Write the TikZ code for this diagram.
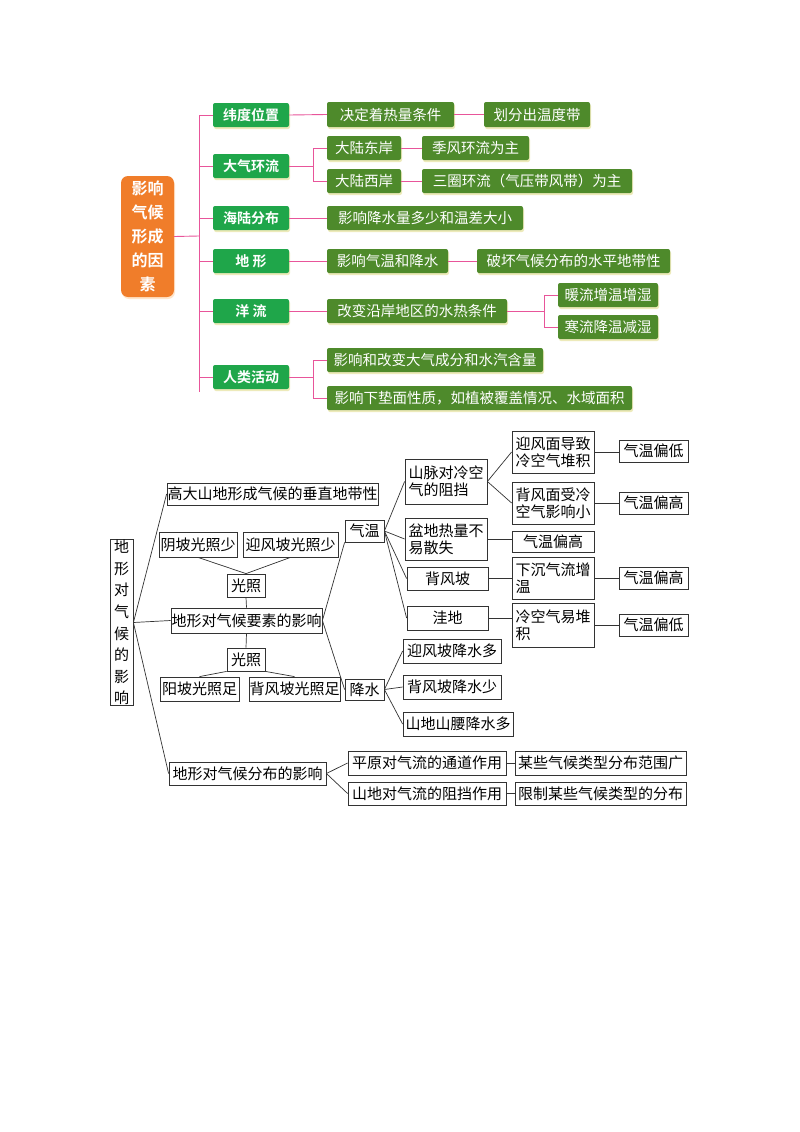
\documentclass[tikz,border=0pt]{standalone}
\usepackage{fontspec}
\setmainfont{Noto Sans CJK SC}
\newfontfamily\cjkb{Noto Sans CJK SC Bold}
\usetikzlibrary{shadows}
\newcommand\bx[8][]{\node[#2,minimum width={(#6-#4)*1pt},minimum height={(#7-#5)*1pt},#1] (#3) at ({(#4+#6)/2},{(#5+#7)/2}) {#8};}
\definecolor{gA}{HTML}{1FA64A}
\definecolor{gB}{HTML}{4E8A2B}
\definecolor{org}{HTML}{F07D2A}
\definecolor{pk}{HTML}{E8559A}
\begin{document}
\begin{tikzpicture}[x=1pt,y=-1pt,
 g1/.style={fill=gA,rounded corners=2pt,text=white,font=\cjkb\fontsize{14}{16}\selectfont,inner sep=0pt,drop shadow={fill=yellow!60!gray,opacity=.4,shadow xshift=1pt,shadow yshift=-2pt}},
 g2/.style={fill=gB,rounded corners=2pt,text=white,font=\fontsize{14.5}{16}\selectfont,inner sep=0pt,drop shadow={fill=yellow!60!gray,opacity=.4,shadow xshift=1pt,shadow yshift=-2pt}},
 pl/.style={draw=pk,line width=0.9pt},
 bb/.style={draw=black!80,line width=0.8pt,font=\fontsize{15}{17}\selectfont,inner sep=0.5pt},
 bl/.style={draw=black!80,line width=0.7pt}]
\useasboundingbox (0,0) rectangle (800,1132);
\fill[white] (0,0) rectangle (800,1132);
% ---------- top ----------
\bx[drop shadow={fill=orange!40,opacity=.5,shadow xshift=1pt,shadow yshift=-2pt}]{fill=org,rounded corners=7pt,text=white,font=\cjkb\fontsize{16}{24}\selectfont,align=center,inner sep=0pt}{root}{121}{176}{174}{297}{影响\\气候\\形成\\的因\\素}
\bx{g1}{a1}{213}{103}{289}{127}{纬度位置}
\bx{g1}{a2}{213}{154}{289}{178}{大气环流}
\bx{g1}{a3}{213}{206}{289}{230}{海陆分布}
\bx{g1}{a4}{213}{249}{289}{273}{地\ 形}
\bx{g1}{a5}{213}{299}{289}{323}{洋\ 流}
\bx{g1}{a6}{213}{365}{289}{389}{人类活动}
\bx{g2}{b1}{327}{102}{454}{127}{决定着热量条件}
\bx{g2}{c1}{484}{102}{590}{127}{划分出温度带}
\bx{g2}{b2}{327}{136}{401}{160}{大陆东岸}
\bx{g2}{c2}{422}{136}{529}{160}{季风环流为主}
\bx{g2}{b3}{327}{169}{401}{193}{大陆西岸}
\bx{g2}{c3}{422}{169}{632}{193}{三圈环流（气压带风带）为主}
\bx{g2}{b4}{327}{206}{523}{230}{影响降水量多少和温差大小}
\bx{g2}{b5}{327}{249}{448}{273}{影响气温和降水}
\bx{g2}{c5}{477}{249}{670}{273}{破坏气候分布的水平地带性}
\bx{g2}{b6}{327}{299}{507}{323}{改变沿岸地区的水热条件}
\bx{g2}{c6}{558}{283}{658}{307}{暖流增温增湿}
\bx{g2}{d6}{558}{315}{658}{339}{寒流降温减湿}
\bx{g2}{b7}{327}{348}{543}{372}{影响和改变大气成分和水汽含量}
\bx{g2}{c7}{327}{386}{632}{410}{影响下垫面性质，如植被覆盖情况、水域面积}
\begin{scope}[pl]
\draw (root.east) -- (199,236);
\draw (199,115) -- (199,392);
\foreach \n in {a1,a2,a3,a4,a5,a6} \draw (199,0 |- \n.west) -- (\n.west);
\draw (a1.east) -- (b1.west); \draw (b1.east) -- (c1.west);
\draw (a2.east) -- (313,0 |- a2.east); \draw (313,0 |- b2.west) -- (313,0 |- b3.west);
\draw (313,0 |- b2.west) -- (b2.west); \draw (313,0 |- b3.west) -- (b3.west);
\draw (b2.east) -- (c2.west); \draw (b3.east) -- (c3.west);
\draw (a3.east) -- (b4.west);
\draw (a4.east) -- (b5.west); \draw (b5.east) -- (c5.west);
\draw (a5.east) -- (b6.west); \draw (b6.east) -- (544,0 |- b6.east);
\draw (544,0 |- c6.west) -- (544,0 |- d6.west);
\draw (544,0 |- c6.west) -- (c6.west); \draw (544,0 |- d6.west) -- (d6.west);
\draw (a6.east) -- (313,0 |- a6.east); \draw (313,0 |- b7.west) -- (313,0 |- c7.west);
\draw (313,0 |- b7.west) -- (b7.west); \draw (313,0 |- c7.west) -- (c7.west);
\end{scope}
% ---------- bottom ----------
\bx{bb,align=center,font=\fontsize{15}{21.6}\selectfont}{R}{110}{547}{133}{698}{地\\形\\对\\气\\候\\的\\影\\响}
\bx{bb}{h}{169}{483}{376}{505}{高大山地形成气候的垂直地带性}
\bx{bb}{y1}{159}{532}{237}{557}{阴坡光照少}
\bx{bb}{y2}{243}{532}{338}{557}{迎风坡光照少}
\bx{bb}{g1}{227}{574}{265}{597}{光照}
\bx{bb}{E}{172}{608}{321}{633}{地形对气候要素的影响}
\bx{bb}{g2}{227}{648}{265}{671}{光照}
\bx{bb}{z1}{160}{677}{239}{701}{阳坡光照足}
\bx{bb}{z2}{249}{677}{340}{701}{背风坡光照足}
\bx{bb}{T}{345}{520}{384}{542}{气温}
\bx{bb}{P}{345}{679}{384}{700}{降水}
\bx{bb,align=left,font=\fontsize{15}{17}\selectfont}{m1}{405}{459}{487}{504}{山脉对冷空\\气的阻挡}
\bx{bb,align=left,font=\fontsize{15}{17}\selectfont}{m2}{405}{518}{487}{560}{盆地热量不\\易散失}
\bx{bb}{m3}{407}{567}{488}{590}{背风坡}
\bx{bb}{m4}{407}{606}{488}{630}{洼地}
\bx{bb,align=left,font=\fontsize{15}{17}\selectfont}{n1}{512}{431}{594}{473}{迎风面导致\\冷空气堆积}
\bx{bb,align=left,font=\fontsize{15}{17}\selectfont}{n2}{512}{482}{594}{524}{背风面受冷\\空气影响小}
\bx{bb}{n3}{512}{531}{594}{552}{气温偏高}
\bx{bb,align=left,font=\fontsize{15}{17}\selectfont}{n4}{512}{557}{594}{599}{下沉气流增\\温\hphantom{沉气流增}}
\bx{bb,align=left,font=\fontsize{15}{17}\selectfont}{n5}{512}{603}{594}{647}{冷空气易堆\\积\hphantom{空气易堆}}
\bx{bb}{o1}{619}{440}{688}{462}{气温偏低}
\bx{bb}{o2}{619}{492}{688}{514}{气温偏高}
\bx{bb}{o4}{619}{567}{688}{589}{气温偏高}
\bx{bb}{o5}{619}{614}{688}{636}{气温偏低}
\bx{bb}{q1}{403}{639}{501}{663}{迎风坡降水多}
\bx{bb}{q2}{403}{675}{501}{699}{背风坡降水少}
\bx{bb}{q3}{403}{712}{513}{736}{山地山腰降水多}
\bx{bb}{D}{169}{762}{326}{785}{地形对气候分布的影响}
\bx{bb}{s1}{348}{751}{506}{775}{平原对气流的通道作用}
\bx{bb}{s2}{348}{782}{506}{805}{山地对气流的阻挡作用}
\bx{bb}{t1}{515}{751}{686}{775}{某些气候类型分布范围广}
\bx{bb}{t2}{515}{782}{686}{805}{限制某些气候类型的分布}
\begin{scope}[bl]
\draw (R.east) -- (h.west); \draw (R.east) -- (E.west); \draw (R.east) -- (D.west);
\draw (y1.south) -- (g1.north); \draw (y2.south) -- (g1.north);
\draw (g1.south) -- (E.north); \draw (E.south) -- (g2.north);
\draw (g2.south west) -- (z1.north); \draw (g2.south east) -- (z2.north);
\draw (E.east) -- (T.south west); \draw (E.east) -- (P.west);
\foreach \k in {m1,m2,m3,m4} \draw (T.east) -- (\k.west);
\draw (m1.east) -- (n1.west); \draw (m1.east) -- (n2.west);
\draw (n1.east) -- (n1.east -| o1.west); \draw (n2.east) -- (n2.east -| o2.west);
\draw (m2.east) -- (m2.east -| n3.west); \draw (m3.east) -- (m3.east -| n4.west); \draw (n4.east) -- (n4.east -| o4.west);
\draw (m4.east) -- (m4.east -| n5.west); \draw (n5.east) -- (n5.east -| o5.west);
\foreach \k in {q1,q2,q3} \draw (P.east) -- (\k.west);
\draw (D.east) -- (s1.west); \draw (D.east) -- (s2.west);
\draw (s1.east) -- (t1.west); \draw (s2.east) -- (t2.west);
\end{scope}
\end{tikzpicture}
\end{document}
